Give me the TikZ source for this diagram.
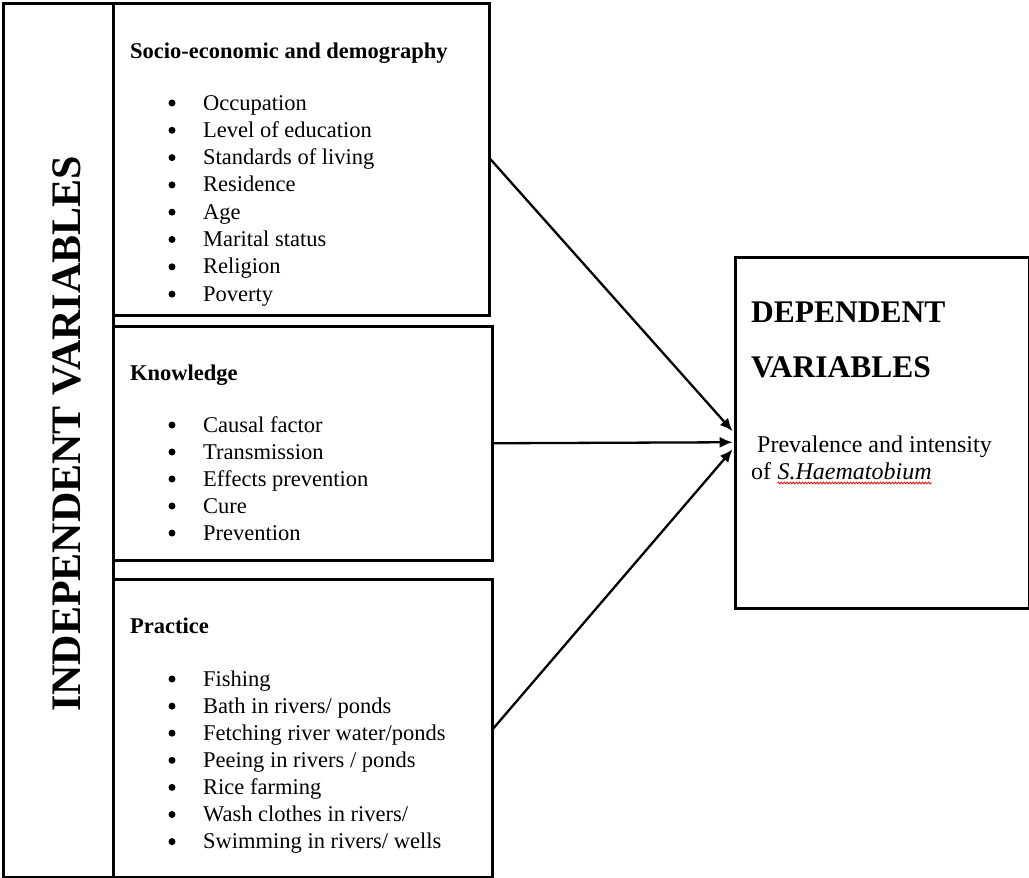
\documentclass[tikz,border=0pt]{standalone}
\usepackage{fontspec}
\setmainfont{Liberation Serif}
\usetikzlibrary{arrows.meta,decorations.pathmorphing}
\begin{document}
\begin{tikzpicture}[x=1pt,y=-1pt,
  box/.style={draw,line width=2.5pt,inner sep=0,anchor=north west},
  head/.style={anchor=base west,inner sep=0,font=\fontsize{22.5}{27}\selectfont\bfseries},
  item/.style={anchor=base west,inner sep=0,font=\fontsize{22.5}{27}\selectfont},
  bul/.style={circle,fill,inner sep=0,minimum size=7pt},
  dephead/.style={anchor=base west,inner sep=0,font=\fontsize{31.5}{36}\selectfont\bfseries},
  deptext/.style={anchor=base west,inner sep=0,font=\fontsize{24}{28}\selectfont},
  arr/.style={line width=2.3pt,-{Latex[length=13pt,width=11pt]}}]
\useasboundingbox (0,0) rectangle (1029,878);

% boxes
\node (indep) [box,minimum width=110pt,minimum height=874pt] at (2,2) {};
\node (socio) [box,minimum width=376pt,minimum height=312pt] at (112,2) {};
\node (know)  [box,minimum width=379pt,minimum height=234pt] at (112,325) {};
\node (prac)  [box,minimum width=379pt,minimum height=298pt] at (112,578) {};
\node (dep)   [box,minimum width=294pt,minimum height=351pt] at (734,256) {};

% vertical title
\node (indeptitle) [anchor=base west,inner sep=0,rotate=90,
  font=\fontsize{42}{48}\selectfont\bfseries] at (80,712) {INDEPENDENT VARIABLES};

% socio-economic box
\node (sh1) [head] at (130,58) {Socio-economic and demography};
\foreach \t [count=\i] in {Occupation,Level of education,Standards of living,Residence,Age,Marital status,Religion,Poverty}{
  \node (sb\i) [bul] at (172,{110+27.3*(\i-1)-7}) {};
  \node (si\i) [item] at (203,{110+27.3*(\i-1)}) {\t};
}

% knowledge box
\node (kh1) [head] at (130,380) {Knowledge};
\foreach \t [count=\i] in {Causal factor,Transmission,Effects prevention,Cure,Prevention}{
  \node (kb\i) [bul] at (172,{432+27*(\i-1)-7}) {};
  \node (ki\i) [item] at (203,{432+27*(\i-1)}) {\t};
}

% practice box
\node (ph1) [head] at (130,633) {Practice};
\foreach \t [count=\i] in {Fishing,Bath in rivers/ ponds,Fetching river water/ponds,Peeing in rivers / ponds,Rice farming,Wash clothes in rivers/,Swimming in rivers/ wells}{
  \node (pb\i) [bul] at (172,{686+27.1*(\i-1)-7}) {};
  \node (pi\i) [item] at (203,{686+27.1*(\i-1)}) {\t};
}

% dependent box
\node (dh1) [dephead] at (751,322) {DEPENDENT};
\node (dh2) [dephead] at (751,377) {VARIABLES};
\node (dt1) [deptext] at (757,452) {Prevalence and intensity};
\node (dt2) [deptext] at (751,479) {of};
\node (sh) [deptext] at ([xshift=6pt]dt2.base east) {\itshape S.Haematobium};
\draw[red,line width=0.8pt,decorate,decoration={snake,amplitude=0.9pt,segment length=3pt}]
  ([yshift=-4pt]sh.base west) -- ([yshift=-4pt]sh.base east);

% arrows
\coordinate (t1) at ([xshift=-1.3pt,yshift=1.5pt]dep.west);
\coordinate (t2) at ([xshift=-1.3pt,yshift=-9.5pt]dep.west);
\coordinate (t3) at ([xshift=-1.3pt,yshift=-16.5pt]dep.west);
\draw[arr] (socio.east) -- (t1);
\draw[arr] (know.east) -- (t2);
\draw[arr] (prac.east) -- (t3);
\end{tikzpicture}
\end{document}
